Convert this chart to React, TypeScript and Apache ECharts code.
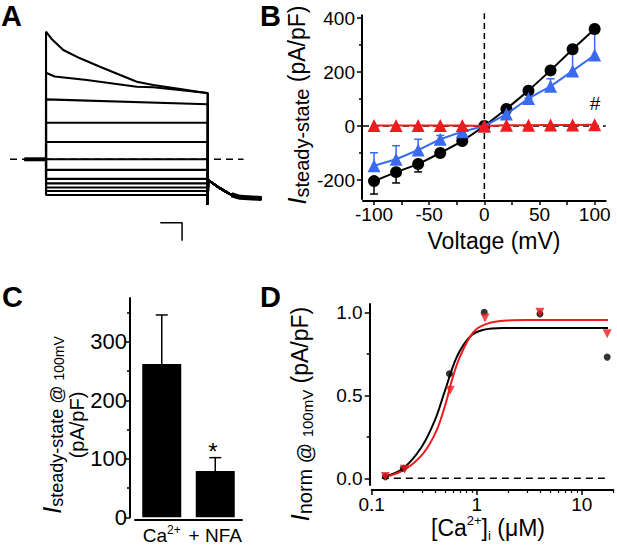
import React, { useEffect, useRef } from 'react';
import * as echarts from 'echarts';

const FONT = '"Liberation Sans", Arial, Helvetica, sans-serif';
const BLACK = '#000000';
const BLUE = '#3a6af0';
const RED = '#ee1c1c';

// ---------- Panel A: current traces (time in ms, current in nA) ----------
const trace1 = [[0, 7.09], [25, 6.7], [80, 6.07], [158, 5.61], [250, 5.14], [344, 4.68], [421, 4.31], [497, 4.13], [623, 3.9], [750, 3.67]];
const trace2 = [[0, 4.81], [40, 4.6], [189, 4.41], [421, 4.03], [497, 4.0], [750, 3.68]];
const trace3 = [[0, 3.33], [750, 3.06]];
const flatLevels = [2.03, 0.96, 0, -0.59, -1.09, -1.34, -1.57, -1.76, -1.98];
const stepEnd = 750;
const preStep = [[-100, 0], [0, 0]];
const tailCurve = [[750, -2.54], [752, -1.15], [807, -1.61], [853, -1.93], [900, -2.11], [1000, -2.18]];
const tailBand = [[860, -1.97], [900, -2.11], [1000, -2.18]];
const dashedA = [[-167, 0], [916, 0]];
const scaleBar = [[530, -3.52], [631, -3.52], [631, -4.52]]; // 100 ms, 1 nA

// ---------- Panel B: I-V ----------
const voltages = [-100, -80, -60, -40, -20, 0, 20, 40, 60, 80, 100];
const caI = [-204, -171, -141, -100, -56, 0, 63, 131, 206, 284, 359];
const caErr = [-48, -40, -29, -10, -5, 0, 0, 0, 0, 0, 0];
const nfaI = [-147, -123, -89, -49, -21, 0, 44, 102, 147, 204, 263];
const nfaErr = [48, 50, 40, 14, 5, 0, 0, 0, 28, 67, 80];
const zeroCaI = [2, 2, 2, 2, 2, 0, 3, 3, 4, 4, 5];

// ---------- Panel C: bars ----------
const cCategories = ['Ca2+', '+ NFA'];
const cMeans = [262, 79];
const cErr = [84, 23];

// ---------- Panel D: Ca dependence ----------
const blackConc = [0.135, 0.2, 0.55, 1.18, 4.0, 17.5];
const blackNorm = [0.01, 0.06, 0.63, 1.0, 0.99, 0.73];
const redConc = [0.135, 0.205, 0.56, 1.2, 4.0, 17.5];
const redNorm = [0.01, 0.055, 0.53, 0.965, 1.0, 0.87];
const blackFitX = [0.134, 0.2, 0.3, 0.4, 0.5, 0.645, 0.863, 1.14, 1.79, 3, 17.8];
const blackFitY = [0.01, 0.06, 0.19, 0.35, 0.53, 0.73, 0.853, 0.893, 0.905, 0.905, 0.905];
const redFitX = [0.139, 0.208, 0.31, 0.416, 0.517, 0.58, 0.69, 0.93, 1.24, 1.93, 3, 17.8];
const redFitY = [0.01, 0.054, 0.15, 0.29, 0.47, 0.59, 0.73, 0.88, 0.93, 0.95, 0.953, 0.953];
const dZeroLine = [[0.125, 0], [17.2, 0]];
const dMajorTicks = [0.1, 1, 10];
const dMinorTicks = [0.2, 0.3, 0.4, 0.5, 0.6, 0.7, 0.8, 0.9, 2, 3, 4, 5, 6, 7, 8, 9, 20];

const axisLineStyle = { show: true, onZero: false, lineStyle: { color: BLACK, width: 2 } };
const noAxisLine = { show: false, onZero: false };

function errorBars(xAxisIndex: number, yAxisIndex: number, data: number[][], color: string, capW: number, z: number) {
  return {
    type: 'custom',
    xAxisIndex,
    yAxisIndex,
    z,
    silent: true,
    data,
    encode: { x: 0, y: [1, 2] },
    renderItem: (_params: any, api: any) => {
      const x = api.value(0);
      const p0 = api.coord([x, api.value(1)]);
      const p1 = api.coord([x, api.value(2)]);
      return {
        type: 'group',
        children: [
          { type: 'line', shape: { x1: p0[0], y1: p0[1], x2: p1[0], y2: p1[1] }, style: { stroke: color, lineWidth: 1.5 } },
          { type: 'line', shape: { x1: p1[0] - capW / 2, y1: p1[1], x2: p1[0] + capW / 2, y2: p1[1] }, style: { stroke: color, lineWidth: 1.5 } },
        ],
      };
    },
  };
}

function lineSeries(data: number[][], xi: number, yi: number, width: number, extra: any = {}) {
  return {
    type: 'line', xAxisIndex: xi, yAxisIndex: yi, data, symbol: 'none', silent: true,
    lineStyle: { color: BLACK, width, ...(extra.lineStyle || {}) },
    z: extra.z ?? 2,
    clip: false,
  };
}

function buildOption() {
  const aTraceProfiles = [trace1, trace2, trace3, ...flatLevels.map((l) => [[0, l], [stepEnd, l]])];
  const aSeries = aTraceProfiles.map((p) => lineSeries([...preStep, ...p, ...tailCurve], 0, 0, 2.1));

  const lg = Math.log10;
  const dMax = 20;

  const tickLabel = (size: number) => ({ fontFamily: FONT, fontSize: size, color: BLACK });

  return {
    animation: false,
    backgroundColor: '#ffffff',
    grid: [
      { left: 2.9, top: 15.3, width: 280.3, height: 234, containLabel: false, outerBoundsMode: 'none' },
      { left: 363, top: 15.3, width: 242.7, height: 183.6, containLabel: false, outerBoundsMode: 'none' },
      { left: 135, top: 298, width: 107, height: 219.3, containLabel: false, outerBoundsMode: 'none' },
      { left: 371.7, top: 304, width: 241.6, height: 180.9, containLabel: false, outerBoundsMode: 'none' },
    ],
    xAxis: [
      { gridIndex: 0, type: 'value', min: -200, max: 1100, show: false, axisLine: noAxisLine },
      {
        gridIndex: 1, type: 'value', min: -110, max: 110, position: 'bottom', offset: 2,
        axisLine: axisLineStyle,
        axisTick: { show: true, customValues: [-100, -75, -50, -25, 0, 25, 50, 75, 100], length: 4, lineStyle: { color: BLACK, width: 1.5 } },
        axisLabel: { show: true, customValues: [-100, -50, 0, 50, 100], margin: 4, ...tickLabel(19) },
        splitLine: { show: false },
      },
      {
        gridIndex: 2, type: 'category', data: cCategories, position: 'bottom', offset: 2,
        axisLine: axisLineStyle,
        axisTick: { show: false },
        axisLabel: {
          show: true, margin: 5, interval: 0,
          formatter: (v: string) => (v === 'Ca2+' ? '{b|Ca}{sup|2+}' : '{b|' + v + '}'),
          rich: {
            b: { fontFamily: FONT, fontSize: 19, color: BLACK, lineHeight: 22 },
            sup: { fontFamily: FONT, fontSize: 12, color: BLACK, lineHeight: 12, verticalAlign: 'top' },
          },
        },
        splitLine: { show: false },
      },
      {
        gridIndex: 3, type: 'log', logBase: 10, min: 0.1, max: dMax, position: 'bottom', offset: 5,
        axisLine: axisLineStyle, axisTick: { show: false }, axisLabel: { show: false }, splitLine: { show: false }, minorTick: { show: false },
      },
      {
        gridIndex: 3, type: 'value', min: -1, max: lg(dMax), position: 'bottom', offset: 5,
        axisLine: noAxisLine,
        axisTick: { show: true, customValues: dMajorTicks.map(lg), length: 5, lineStyle: { color: BLACK, width: 1.5 } },
        axisLabel: { show: true, customValues: dMajorTicks.map(lg), margin: 5, formatter: (v: number) => String(Math.round(Math.pow(10, v) * 10) / 10), ...tickLabel(19) },
        splitLine: { show: false },
      },
      {
        gridIndex: 3, type: 'value', min: -1, max: lg(dMax), position: 'bottom', offset: 5,
        axisLine: noAxisLine,
        axisTick: { show: true, customValues: dMinorTicks.map(lg), length: 3, lineStyle: { color: BLACK, width: 1.2 } },
        axisLabel: { show: false },
        splitLine: { show: false },
      },
    ],
    yAxis: [
      { gridIndex: 0, type: 'value', min: -5, max: 8, show: false, axisLine: noAxisLine },
      {
        gridIndex: 1, type: 'value', min: -270, max: 410, position: 'left', offset: 1,
        axisLine: axisLineStyle,
        axisTick: { show: true, customValues: [-200, 0, 200, 400], length: 5, lineStyle: { color: BLACK, width: 1.5 } },
        axisLabel: { show: true, customValues: [-200, 0, 200, 400], margin: 7, ...tickLabel(19) },
        splitLine: { show: false },
      },
      {
        gridIndex: 1, type: 'value', min: -270, max: 410, position: 'left', offset: 1,
        axisLine: noAxisLine,
        axisTick: { show: true, customValues: [-100, 100, 300], length: 3, lineStyle: { color: BLACK, width: 1.5 } },
        axisLabel: { show: false },
        splitLine: { show: false },
      },
      {
        gridIndex: 2, type: 'value', min: 0, max: 375, position: 'left', offset: 5,
        axisLine: axisLineStyle,
        axisTick: { show: true, customValues: [0, 100, 200, 300], length: 5, lineStyle: { color: BLACK, width: 1.5 } },
        axisLabel: { show: true, customValues: [0, 100, 200, 300], margin: 3, ...tickLabel(22) },
        splitLine: { show: false },
      },
      {
        gridIndex: 2, type: 'value', min: 0, max: 375, position: 'left', offset: 5,
        axisLine: noAxisLine,
        axisTick: { show: true, customValues: [50, 150, 250, 350], length: 3, lineStyle: { color: BLACK, width: 1.5 } },
        axisLabel: { show: false },
        splitLine: { show: false },
      },
      {
        gridIndex: 3, type: 'value', min: -0.04, max: 1.05, position: 'left', offset: 2,
        axisLine: axisLineStyle,
        axisTick: { show: true, customValues: [0, 0.5, 1], length: 5, lineStyle: { color: BLACK, width: 1.5 } },
        axisLabel: { show: true, customValues: [0, 0.5, 1], margin: 7, formatter: (v: number) => v.toFixed(1), ...tickLabel(19) },
        splitLine: { show: false },
      },
      {
        gridIndex: 3, type: 'value', min: -0.04, max: 1.05, position: 'left', offset: 2,
        axisLine: noAxisLine,
        axisTick: { show: true, customValues: [0.25, 0.75], length: 3, lineStyle: { color: BLACK, width: 1.5 } },
        axisLabel: { show: false },
        splitLine: { show: false },
      },
    ],
    series: [
      // Panel A
      lineSeries(dashedA, 0, 0, 1.5, { lineStyle: { type: [7, 5] }, z: 1 }),
      ...aSeries,
      lineSeries(preStep, 0, 0, 4),
      lineSeries(tailBand, 0, 0, 5),
      lineSeries(scaleBar, 0, 0, 1.5),
      // Panel B
      lineSeries([[-110, 0], [110, 0]], 1, 1, 1.5, { lineStyle: { type: [6, 4] }, z: 1 }),
      lineSeries([[0, -270], [0, 418]], 1, 1, 1.5, { lineStyle: { type: [6, 4] }, z: 1 }),
      errorBars(1, 1, voltages.map((v, i) => [v, caI[i], caI[i] + caErr[i]]), BLACK, 8, 2),
      errorBars(1, 1, voltages.map((v, i) => [v, nfaI[i], nfaI[i] + nfaErr[i]]), BLUE, 8, 2),
      {
        name: 'Ca2+', type: 'line', xAxisIndex: 1, yAxisIndex: 1, z: 3, silent: true,
        data: voltages.map((v, i) => [v, caI[i]]),
        symbol: 'circle', symbolSize: 12, itemStyle: { color: BLACK }, lineStyle: { color: BLACK, width: 2 },
      },
      {
        name: '+ NFA', type: 'line', xAxisIndex: 1, yAxisIndex: 1, z: 4, silent: true,
        data: voltages.map((v, i) => [v, nfaI[i]]),
        symbol: 'triangle', symbolSize: 13, itemStyle: { color: BLUE }, lineStyle: { color: BLUE, width: 2 },
      },
      {
        name: '0 Ca2+', type: 'line', xAxisIndex: 1, yAxisIndex: 1, z: 5, silent: true,
        data: voltages.map((v, i) => [v, zeroCaI[i]]),
        symbol: 'triangle', symbolSize: 13, itemStyle: { color: RED }, lineStyle: { color: RED, width: 2 },
      },
      // Panel C
      {
        type: 'bar', xAxisIndex: 2, yAxisIndex: 3, data: cMeans, barWidth: 39, silent: true,
        itemStyle: { color: BLACK }, z: 2,
      },
      errorBars(2, 3, cMeans.map((m, i) => [i, m, m + cErr[i]]), BLACK, 12, 3),
      // Panel D
      lineSeries(dZeroLine, 3, 5, 1.5, { lineStyle: { type: [7, 5] }, z: 1 }),
      {
        type: 'line', xAxisIndex: 3, yAxisIndex: 5, z: 2, silent: true, symbol: 'none', smooth: 0.35,
        data: blackFitX.map((x, i) => [x, blackFitY[i]]), lineStyle: { color: BLACK, width: 2 },
      },
      {
        type: 'line', xAxisIndex: 3, yAxisIndex: 5, z: 3, silent: true, symbol: 'none', smooth: 0.35,
        data: redFitX.map((x, i) => [x, redFitY[i]]), lineStyle: { color: RED, width: 2 },
      },
      {
        type: 'scatter', xAxisIndex: 3, yAxisIndex: 5, z: 4, silent: true, symbol: 'circle', symbolSize: 7,
        data: blackConc.map((x, i) => [x, blackNorm[i]]), itemStyle: { color: BLACK },
      },
      {
        type: 'scatter', xAxisIndex: 3, yAxisIndex: 5, z: 5, silent: true, symbol: 'triangle', symbolRotate: 180, symbolSize: 9,
        data: redConc.map((x, i) => [x, redNorm[i]]), itemStyle: { color: RED },
      },
    ],
    graphic: [
      { type: 'text', x: 1, y: 15.5, style: { text: 'A', fontFamily: FONT, fontWeight: 'bold', fontSize: 29, fill: BLACK, verticalAlign: 'middle' } },
      { type: 'text', x: 260, y: 15.5, style: { text: 'B', fontFamily: FONT, fontWeight: 'bold', fontSize: 29, fill: BLACK, verticalAlign: 'middle' } },
      { type: 'text', x: 2, y: 297, style: { text: 'C', fontFamily: FONT, fontWeight: 'bold', fontSize: 29, fill: BLACK, verticalAlign: 'middle' } },
      { type: 'text', x: 260, y: 297, style: { text: 'D', fontFamily: FONT, fontWeight: 'bold', fontSize: 29, fill: BLACK, verticalAlign: 'middle' } },
      // B titles
      {
        type: 'text', x: 297, y: 105, rotation: Math.PI / 2,
        style: {
          text: '{i|I}{sub|steady-state}{n| (pA/pF)}', align: 'center', verticalAlign: 'middle',
          rich: {
            i: { fontFamily: FONT, fontStyle: 'italic', fontSize: 25, lineHeight: 29, fill: BLACK },
            sub: { fontFamily: FONT, fontSize: 20, lineHeight: 20, verticalAlign: 'bottom', fill: BLACK },
            n: { fontFamily: FONT, fontSize: 23, lineHeight: 29, fill: BLACK },
          },
        },
      },
      { type: 'text', x: 494, y: 241, style: { text: 'Voltage (mV)', fontFamily: FONT, fontSize: 23, fill: BLACK, align: 'center', verticalAlign: 'middle' } },
      { type: 'text', x: 595, y: 103, style: { text: '#', fontFamily: FONT, fontSize: 19, fill: BLACK, align: 'center', verticalAlign: 'middle' } },
      // C titles
      {
        type: 'text', x: 52, y: 425, rotation: Math.PI / 2,
        style: {
          text: '{i|I}{sub|steady-state @ }{sm|100mV}', align: 'center', verticalAlign: 'middle',
          rich: {
            i: { fontFamily: FONT, fontStyle: 'italic', fontSize: 25, lineHeight: 28, fill: BLACK },
            sub: { fontFamily: FONT, fontSize: 18, lineHeight: 18, verticalAlign: 'bottom', fill: BLACK },
            sm: { fontFamily: FONT, fontSize: 14, lineHeight: 16, verticalAlign: 'bottom', fill: BLACK },
          },
        },
      },
      { type: 'text', x: 77, y: 425, rotation: Math.PI / 2, style: { text: '(pA/pF)', fontFamily: FONT, fontSize: 20, fill: BLACK, align: 'center', verticalAlign: 'middle' } },
      { type: 'text', x: 213, y: 451, style: { text: '*', fontFamily: FONT, fontSize: 24, fill: BLACK, align: 'center', verticalAlign: 'middle' } },
      // D titles
      {
        type: 'text', x: 300, y: 414, rotation: Math.PI / 2,
        style: {
          text: '{i|I}{sub|norm @ }{sm|100mV}{n| (pA/pF)}', align: 'center', verticalAlign: 'middle',
          rich: {
            i: { fontFamily: FONT, fontStyle: 'italic', fontSize: 25, lineHeight: 29, fill: BLACK },
            sub: { fontFamily: FONT, fontSize: 20, lineHeight: 20, verticalAlign: 'bottom', fill: BLACK },
            sm: { fontFamily: FONT, fontSize: 15, lineHeight: 17, verticalAlign: 'bottom', fill: BLACK },
            n: { fontFamily: FONT, fontSize: 23, lineHeight: 29, fill: BLACK },
          },
        },
      },
      {
        type: 'text', x: 488, y: 528,
        style: {
          text: '{n|[Ca}{sup|2+}{n|]}{sub|i}{n| (\u03bcM)}', align: 'center', verticalAlign: 'middle',
          rich: {
            n: { fontFamily: FONT, fontSize: 23, lineHeight: 28, fill: BLACK },
            sup: { fontFamily: FONT, fontSize: 13, lineHeight: 13, verticalAlign: 'top', fill: BLACK },
            sub: { fontFamily: FONT, fontSize: 13, lineHeight: 13, verticalAlign: 'bottom', fill: BLACK },
          },
        },
      },
    ],
  };
}

export default function App() {
  const ref = useRef<HTMLDivElement>(null);
  useEffect(() => {
    if (!ref.current) return;
    const chart = echarts.init(ref.current, null, { renderer: 'svg' });
    chart.setOption(buildOption() as any);
    return () => chart.dispose();
  }, []);
  return (
    <div
      ref={ref}
      style={{ position: 'fixed', left: 0, top: 0, width: 617, height: 547, background: '#ffffff' }}
    />
  );
}
